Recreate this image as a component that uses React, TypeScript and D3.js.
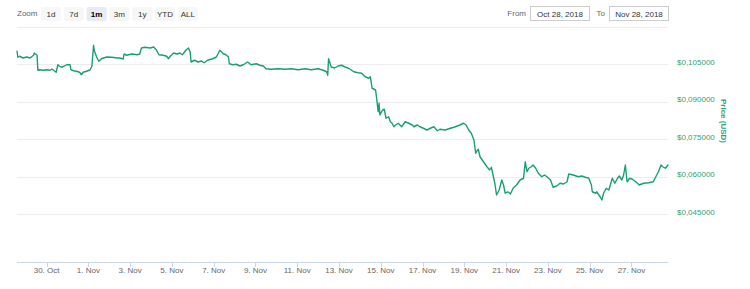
import React from 'react';
import * as d3 from 'd3';

// price samples: [ "MM-DD HH", price in USD ]
const priceSeries: [string, number][] = [
  ['10-28 14', 0.1101], ['10-28 15', 0.1077], ['10-28 17', 0.1081], ['10-28 21', 0.1074],
  ['10-29 01', 0.1078], ['10-29 05', 0.1074], ['10-29 09', 0.1085], ['10-29 10', 0.1094],
  ['10-29 11', 0.1090], ['10-29 13', 0.1086], ['10-29 14', 0.1025], ['10-29 16', 0.1027],
  ['10-29 20', 0.1025], ['10-30 00', 0.1027], ['10-30 04', 0.1025], ['10-30 06', 0.1030],
  ['10-30 08', 0.1025], ['10-30 11', 0.1017], ['10-30 13', 0.1047], ['10-30 15', 0.1041],
  ['10-30 17', 0.1037], ['10-30 20', 0.1041], ['10-30 23', 0.1047], ['10-31 03', 0.1047],
  ['10-31 04', 0.1027], ['10-31 07', 0.1023], ['10-31 10', 0.1021], ['10-31 14', 0.1017],
  ['10-31 16', 0.1007], ['10-31 18', 0.1017], ['10-31 22', 0.1021], ['11-01 02', 0.1027],
  ['11-01 04', 0.1041], ['11-01 06', 0.1125], ['11-01 07', 0.1101], ['11-01 10', 0.1074],
  ['11-01 12', 0.1061], ['11-01 15', 0.1071], ['11-01 21', 0.1078], ['11-02 03', 0.1077],
  ['11-02 09', 0.1074], ['11-02 12', 0.1074], ['11-02 16', 0.1070], ['11-02 17', 0.1090],
  ['11-02 20', 0.1085], ['11-03 02', 0.1090], ['11-03 08', 0.1087], ['11-03 11', 0.1090],
  ['11-03 13', 0.1114], ['11-03 17', 0.1117], ['11-03 23', 0.1114], ['11-04 03', 0.1118],
  ['11-04 06', 0.1107], ['11-04 09', 0.1087], ['11-04 14', 0.1085], ['11-04 18', 0.1081],
  ['11-04 20', 0.1071], ['11-04 22', 0.1081], ['11-05 02', 0.1094], ['11-05 06', 0.1090],
  ['11-05 09', 0.1094], ['11-05 12', 0.1087], ['11-05 16', 0.1105], ['11-05 19', 0.1114],
  ['11-05 21', 0.1098], ['11-05 22', 0.1058], ['11-06 02', 0.1065], ['11-06 06', 0.1058],
  ['11-06 10', 0.1062], ['11-06 13', 0.1055], ['11-06 17', 0.1065], ['11-06 23', 0.1071],
  ['11-07 03', 0.1078], ['11-07 05', 0.1091], ['11-07 07', 0.1105], ['11-07 11', 0.1091],
  ['11-07 14', 0.1087], ['11-07 17', 0.1078], ['11-07 18', 0.1051], ['11-07 22', 0.1047],
  ['11-08 02', 0.1049], ['11-08 06', 0.1042], ['11-08 10', 0.1047], ['11-08 15', 0.1058],
  ['11-08 19', 0.1047], ['11-09 01', 0.1051], ['11-09 05', 0.1045], ['11-09 09', 0.1042],
  ['11-09 12', 0.1031], ['11-09 18', 0.1029], ['11-10 02', 0.1031], ['11-10 10', 0.1029],
  ['11-10 17', 0.1031], ['11-11 01', 0.1027], ['11-11 09', 0.1031], ['11-11 16', 0.1027],
  ['11-12 00', 0.1031], ['11-12 06', 0.1025], ['11-12 10', 0.1018], ['11-12 11', 0.1005],
  ['11-12 12', 0.1071], ['11-12 15', 0.1038], ['11-12 19', 0.1034], ['11-12 23', 0.1042],
  ['11-13 03', 0.1045], ['11-13 07', 0.1038], ['11-13 11', 0.1033], ['11-13 17', 0.1019],
  ['11-13 22', 0.1015], ['11-14 02', 0.1013], ['11-14 06', 0.0999], ['11-14 10', 0.0993],
  ['11-14 12', 0.0999], ['11-14 14', 0.0953], ['11-14 18', 0.0946], ['11-14 19', 0.0919],
  ['11-14 21', 0.0859], ['11-14 22', 0.0893], ['11-14 23', 0.0846], ['11-15 02', 0.0866],
  ['11-15 04', 0.0869], ['11-15 06', 0.0833], ['11-15 09', 0.0839], ['11-15 11', 0.0819],
  ['11-15 13', 0.0813], ['11-15 15', 0.0799], ['11-15 17', 0.0806], ['11-15 20', 0.0813],
  ['11-16 00', 0.0799], ['11-16 04', 0.0819], ['11-16 08', 0.0813], ['11-16 12', 0.0806],
  ['11-16 14', 0.0799], ['11-16 18', 0.0806], ['11-16 21', 0.0799], ['11-17 01', 0.0793],
  ['11-17 05', 0.0786], ['11-17 09', 0.0793], ['11-17 13', 0.0799], ['11-17 17', 0.0783],
  ['11-17 20', 0.0789], ['11-18 02', 0.0786], ['11-18 08', 0.0793], ['11-18 12', 0.0797],
  ['11-18 16', 0.0802], ['11-18 19', 0.0806], ['11-18 23', 0.0813], ['11-19 02', 0.0806],
  ['11-19 05', 0.0786], ['11-19 08', 0.0773], ['11-19 11', 0.0746], ['11-19 13', 0.0693],
  ['11-19 15', 0.0706], ['11-19 16', 0.0709], ['11-19 18', 0.0679], ['11-19 22', 0.0659],
  ['11-20 02', 0.0639], ['11-20 05', 0.0626], ['11-20 07', 0.0637], ['11-20 09', 0.0606],
  ['11-20 11', 0.0573], ['11-20 13', 0.0526], ['11-20 16', 0.0546], ['11-20 19', 0.0586],
  ['11-20 21', 0.0566], ['11-20 23', 0.0533], ['11-21 02', 0.0539], ['11-21 05', 0.0530],
  ['11-21 08', 0.0553], ['11-21 12', 0.0566], ['11-21 16', 0.0586], ['11-21 20', 0.0593],
  ['11-21 22', 0.0659], ['11-22 00', 0.0619], ['11-22 02', 0.0633], ['11-22 05', 0.0639],
  ['11-22 07', 0.0646], ['11-22 10', 0.0633], ['11-22 13', 0.0613], ['11-22 17', 0.0599],
  ['11-22 20', 0.0606], ['11-22 23', 0.0599], ['11-23 03', 0.0586], ['11-23 06', 0.0557],
  ['11-23 10', 0.0562], ['11-23 14', 0.0573], ['11-23 18', 0.0570], ['11-23 22', 0.0579],
  ['11-24 00', 0.0610], ['11-24 05', 0.0606], ['11-24 11', 0.0599], ['11-24 15', 0.0602],
  ['11-24 19', 0.0597], ['11-24 23', 0.0593], ['11-25 02', 0.0566], ['11-25 03', 0.0539],
  ['11-25 07', 0.0533], ['11-25 08', 0.0539], ['11-25 12', 0.0519], ['11-25 14', 0.0506],
  ['11-25 16', 0.0533], ['11-25 19', 0.0553], ['11-25 22', 0.0546], ['11-26 02', 0.0593],
  ['11-26 05', 0.0573], ['11-26 08', 0.0593], ['11-26 10', 0.0602], ['11-26 13', 0.0586],
  ['11-26 15', 0.0606], ['11-26 17', 0.0646], ['11-26 19', 0.0579], ['11-26 22', 0.0593],
  ['11-27 01', 0.0589], ['11-27 05', 0.0579], ['11-27 09', 0.0566], ['11-27 14', 0.0573],
  ['11-27 20', 0.0575], ['11-28 01', 0.0579], ['11-28 04', 0.0599], ['11-28 07', 0.0619],
  ['11-28 10', 0.0646], ['11-28 12', 0.0639], ['11-28 15', 0.0633], ['11-28 18', 0.0646],
];

const yTicks = [0.045, 0.06, 0.075, 0.09, 0.105, 0.12];
const xTickDays = ['10-30', '11-01', '11-03', '11-05', '11-07', '11-09', '11-11', '11-13',
  '11-15', '11-17', '11-19', '11-21', '11-23', '11-25', '11-27'];
const zoomButtons = ['1d', '7d', '1m', '3m', '1y', 'YTD', 'ALL'];
const selectedButton = '1m';
const fromLabel = 'Oct 28, 2018';
const toLabel = 'Nov 28, 2018';

const GREEN = '#1a9f6e';
const LABEL_GREEN = '#2f9f78';
const FONT = '"Liberation Sans", Arial, Helvetica, sans-serif';

const parseTime = d3.timeParse('%Y-%m-%d %H');
const parseDay = d3.timeParse('%Y-%m-%d');

const App = () => {
  const width = 750;
  const height = 289;
  const plot = { left: 17, right: 668, top: 26.5, bottom: 262 };

  const data = priceSeries.map(([t, v]) => ({ date: parseTime('2018-' + t) as Date, value: v }));

  const xScale = d3.scaleTime()
    .domain(d3.extent(data, d => d.date) as [Date, Date])
    .range([plot.left, plot.right]);

  // 0.120 sits on the top grid line, each 0.015 step is ~37.5px
  const yScale = d3.scaleLinear()
    .domain([0.03, 0.12])
    .range([251.5, 26.5]);

  const line = d3.line<{ date: Date; value: number }>()
    .x(d => xScale(d.date))
    .y(d => yScale(d.value));

  const fmtY = (v: number) => '$' + v.toFixed(6).replace('.', ',');
  const fmtX = d3.timeFormat('%-d. %b');
  const crisp = (v: number) => Math.round(v) + 0.5;

  return (
    <svg width={width} height={height}
      style={{ position: 'absolute', left: 0, top: 0, fontFamily: FONT }}>
      <rect width={width} height={height} fill="#fff" />

      {/* range selector */}
      <text x={17} y={16} fontSize={8} fill="#666">Zoom</text>
      {zoomButtons.map((b, i) => {
        const bx = 41 + i * 22.8;
        const sel = b === selectedButton;
        return (
          <g key={b}>
            <rect x={bx} y={7} width={20} height={14} rx={2}
              fill={sel ? '#e6ebf5' : '#f7f7f7'} />
            <text x={bx + 10} y={16.5} fontSize={8} textAnchor="middle"
              fill={sel ? '#000' : '#333'} fontWeight={sel ? 'bold' : 'normal'}>{b}</text>
          </g>
        );
      })}

      <text x={526} y={16} fontSize={8} textAnchor="end" fill="#666">From</text>
      <rect x={530.5} y={6.5} width={59} height={14} fill="#fff" stroke="#ccc" strokeWidth={1} />
      <text x={560} y={16.5} fontSize={8} textAnchor="middle" fill="#333">{fromLabel}</text>
      <text x={605} y={16} fontSize={8} textAnchor="end" fill="#666">To</text>
      <rect x={609.5} y={6.5} width={59} height={14} fill="#fff" stroke="#ccc" strokeWidth={1} />
      <text x={639} y={16.5} fontSize={8} textAnchor="middle" fill="#333">{toLabel}</text>

      {/* grid + y labels */}
      {yTicks.map(t => (
        <g key={t}>
          <line x1={plot.left} x2={plot.right} y1={crisp(yScale(t))} y2={crisp(yScale(t))}
            stroke="#ececec" strokeWidth={1} />
          {t < 0.12 && (
            <text x={677} y={yScale(t) + 0.5} fontSize={8} fill={LABEL_GREEN}>{fmtY(t)}</text>
          )}
        </g>
      ))}
      <text transform={`translate(721,121) rotate(90)`} fontSize={8} fontWeight="bold"
        textAnchor="middle" fill={LABEL_GREEN}>Price (USD)</text>

      {/* x axis */}
      <line x1={plot.left} x2={plot.right} y1={plot.bottom + 0.5} y2={plot.bottom + 0.5}
        stroke="#ccd6eb" strokeWidth={1} />
      {xTickDays.map(d => {
        const date = parseDay('2018-' + d) as Date;
        const tx = crisp(xScale(date));
        return (
          <g key={d}>
            <line x1={tx} x2={tx} y1={plot.bottom} y2={plot.bottom + 5} stroke="#ccd6eb" />
            <text x={xScale(date)} y={273} fontSize={8} textAnchor="middle" fill="#666">{fmtX(date)}</text>
          </g>
        );
      })}

      {/* price line */}
      <path d={line(data) || ''} fill="none" stroke={GREEN} strokeWidth={1.4}
        strokeLinejoin="round" strokeLinecap="round" />
    </svg>
  );
};

export default App;
